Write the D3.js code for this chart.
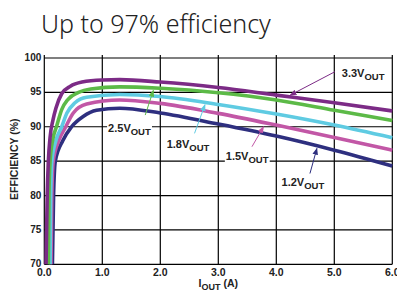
<!DOCTYPE html>
<html>
<head>
<meta charset="utf-8">
<script src="https://cdn.jsdelivr.net/npm/d3@7"></script>
<style>
  body { margin: 0; background: #fff; }
  svg text { font-family: "Liberation Sans", Arial, sans-serif; }
</style>
</head>
<body>
<svg id="chart" width="397" height="294"></svg>
<script>
// Efficiency vs output current, one series per output voltage
const xTicks = [0, 1, 2, 3, 4, 5, 6];
const yTicks = [70, 75, 80, 85, 90, 95, 100];

const series33 = [[0.03, 70], [0.05, 80], [0.07, 85], [0.1, 88.5], [0.15, 91], [0.2, 92.7], [0.3, 94.8], [0.45, 95.9], [0.65, 96.5], [1.0, 96.8], [1.3, 96.85], [2, 96.5], [3, 95.7], [4, 94.6], [5, 93.5], [6, 92.3]];
const series25 = [[0.07, 70], [0.08, 80], [0.1, 85], [0.15, 88.3], [0.21, 90], [0.3, 92.5], [0.41, 94], [0.59, 95], [0.8, 95.5], [1.3, 95.8], [2, 95.6], [3, 94.95], [4, 93.9], [5, 92.4], [6, 90.9]];
const series18 = [[0.1, 70], [0.11, 80], [0.13, 85], [0.2, 88], [0.3, 90], [0.39, 92], [0.53, 93.5], [0.73, 94.3], [1.3, 94.7], [2, 94.4], [3, 93.25], [4, 91.85], [5, 90.25], [6, 88.4]];
const series15 = [[0.115, 70], [0.13, 80], [0.155, 85], [0.25, 88], [0.37, 90], [0.5, 92], [0.73, 93.3], [1.3, 93.9], [2, 93.4], [3, 91.95], [4, 90.25], [5, 88.45], [6, 86.6]];
const series12 = [[0.14, 70], [0.16, 80], [0.19, 85], [0.32, 88], [0.47, 90], [0.67, 91.5], [0.9, 92.4], [1.3, 92.7], [2, 92.0], [3, 90.4], [4, 88.65], [5, 86.6], [6, 84.3]];

const seriesList = [
  { name: "1.2", data: series12, color: "#2e2f7f" },
  { name: "1.5", data: series15, color: "#c257a6" },
  { name: "1.8", data: series18, color: "#5fcbe2" },
  { name: "2.5", data: series25, color: "#5cba47" },
  { name: "3.3", data: series33, color: "#7c2b86" }
];

// label anchor (data coords), arrow tail and arrow tip (data coords) for each series
const labelInfo = {
  "3.3": { at: [5.13, 97.3], from: [5.01, 98.0], to: [4.24, 94.6] },
  "2.5": { at: [1.10, 89.2], from: [1.74, 91.7], to: [1.88, 95.3] },
  "1.8": { at: [2.11, 86.86], from: [2.59, 89.04], to: [2.77, 93.2] },
  "1.5": { at: [3.13, 85.16], from: [3.58, 87.1], to: [3.78, 90.0] },
  "1.2": { at: [4.09, 81.4], from: [4.58, 83.2], to: [4.70, 86.86] }
};

const svg = d3.select("#chart");
const margin = { left: 44.3, right: 392.3, top: 58, bottom: 264.3 };

const x = d3.scaleLinear().domain([0, 6]).range([margin.left, margin.right]);
const y = d3.scaleLinear().domain([70, 100]).range([margin.bottom, margin.top]);

// Title
svg.append("text")
  .attr("x", 41)
  .attr("y", 33)
  .style("font-family", "'Noto Sans', sans-serif")
  .style("font-weight", 300)
  .style("font-size", "25px")
  .attr("fill", "#222")
  .text("Up to 97% efficiency");

// Grid
const grid = svg.append("g").attr("stroke", "#000").attr("stroke-width", 1.2);
grid.selectAll("line.v")
  .data(xTicks)
  .join("line")
  .attr("class", "v")
  .attr("x1", d => x(d)).attr("x2", d => x(d))
  .attr("y1", y(100) - 3).attr("y2", y(70));
grid.selectAll("line.h")
  .data(yTicks)
  .join("line")
  .attr("class", "h")
  .attr("x1", x(0)).attr("x2", x(6))
  .attr("y1", d => y(d)).attr("y2", d => y(d));

// Axis tick labels
svg.append("g").selectAll("text")
  .data(yTicks)
  .join("text")
  .attr("x", x(0) - 3)
  .attr("y", d => y(d) + 3)
  .attr("text-anchor", "end")
  .style("font-size", "10px")
  .style("font-weight", "bold")
  .attr("fill", "#222")
  .text(d => d);

svg.append("g").selectAll("text")
  .data(xTicks)
  .join("text")
  .attr("x", d => x(d))
  .attr("y", y(70) + 12)
  .attr("text-anchor", "middle")
  .style("font-size", "10.5px")
  .style("font-weight", "bold")
  .attr("fill", "#222")
  .text(d => d.toFixed(1));

// Axis titles
svg.append("text")
  .attr("transform", `translate(18,${(y(70) + y(100)) / 2 - 2}) rotate(-90)`)
  .attr("text-anchor", "middle")
  .style("font-size", "10.5px")
  .style("font-weight", "bold")
  .attr("fill", "#222")
  .text("EFFICIENCY (%)");

const xTitle = svg.append("text")
  .attr("x", (x(0) + x(6)) / 2)
  .attr("y", 287)
  .attr("text-anchor", "middle")
  .style("font-size", "10.5px")
  .style("font-weight", "bold")
  .attr("fill", "#222");
xTitle.append("tspan").text("I");
xTitle.append("tspan").attr("dy", 3).style("font-size", "9px").text("OUT");
xTitle.append("tspan").attr("dy", -3).text(" (A)");

// Curves
const line = d3.line()
  .x(d => x(d[0]))
  .y(d => y(d[1]))
  .curve(d3.curveMonotoneX);

const plot = svg.append("g");
plot.selectAll("path")
  .data(seriesList)
  .join("path")
  .attr("d", d => line(d.data))
  .attr("fill", "none")
  .attr("stroke", d => d.color)
  .attr("stroke-width", 3.6);

// Arrow markers
const defs = svg.append("defs");
seriesList.forEach(s => {
  defs.append("marker")
    .attr("id", "arrow" + s.name.replace(".", ""))
    .attr("viewBox", "0 0 10 10")
    .attr("refX", 9).attr("refY", 5)
    .attr("markerWidth", 7).attr("markerHeight", 7)
    .attr("markerUnits", "userSpaceOnUse")
    .attr("orient", "auto")
    .append("path")
    .attr("d", "M0,1 L10,5 L0,9 Z")
    .attr("fill", s.color);
});

// Labels with arrows
const labels = svg.append("g");
seriesList.forEach(s => {
  const info = labelInfo[s.name];
  labels.append("line")
    .attr("x1", x(info.from[0])).attr("y1", y(info.from[1]))
    .attr("x2", x(info.to[0])).attr("y2", y(info.to[1]))
    .attr("stroke", s.color)
    .attr("stroke-width", 1)
    .attr("marker-end", `url(#arrow${s.name.replace(".", "")})`);

  const g = labels.append("g");
  const t = g.append("text")
    .attr("x", x(info.at[0]))
    .attr("y", y(info.at[1]))
    .style("font-size", "11px")
    .style("font-weight", "bold")
    .attr("fill", "#222");
  t.append("tspan").text(s.name + "V");
  t.append("tspan").attr("dy", 3).style("font-size", "9.5px").text("OUT");
  const bb = t.node().getBBox();
  g.insert("rect", "text")
    .attr("x", bb.x - 1).attr("y", bb.y + 1)
    .attr("width", bb.width + 2).attr("height", bb.height - 2)
    .attr("fill", "#fff");
});
</script>
</body>
</html>
